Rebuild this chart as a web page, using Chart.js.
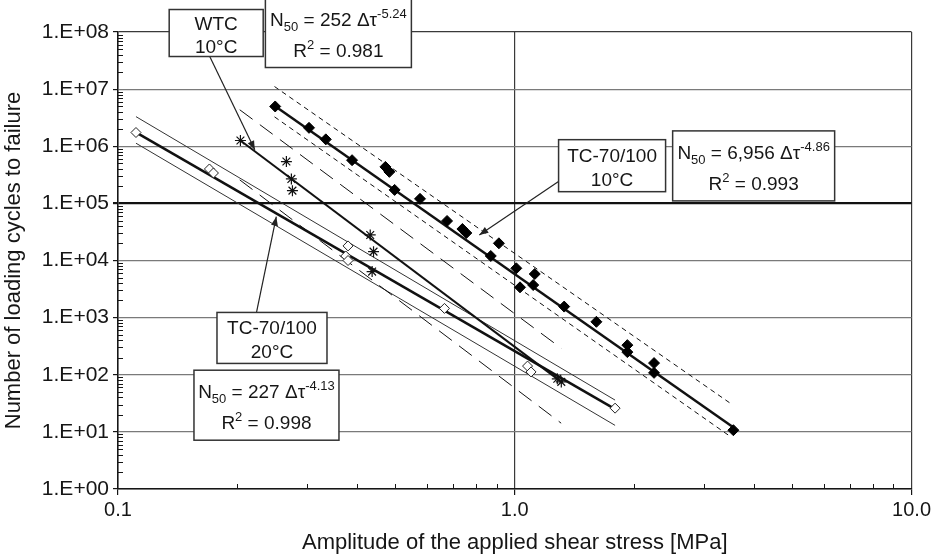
<!DOCTYPE html>
<html>
<head>
<meta charset="utf-8">
<script src="https://cdn.jsdelivr.net/npm/chart.js@4.4.0/dist/chart.umd.min.js"></script>
<style>
  html, body { margin: 0; padding: 0; background: #fff; }
  #wrap { width: 934px; height: 558px; }
</style>
</head>
<body>
<div id="wrap"><canvas id="snChart" width="934" height="558"></canvas></div>
<script>
// TC-70/100 at 10°C (filled diamonds)
const tc10X = [0.249, 0.303, 0.334, 0.389, 0.472, 0.483, 0.498, 0.577, 0.675, 0.738, 0.755, 0.912, 0.870, 1.009, 1.123, 1.031, 1.113, 1.332, 1.606, 1.922, 1.922, 2.244, 2.244, 3.556];
const tc10Y = [4.97e6, 2.10e6, 1.32e6, 5.7e5, 4.35e5, 3.56e5, 1.72e5, 1.20e5, 4.92e4, 3.56e4, 3.03e4, 2.0e4, 1.2e4, 7.3e3, 5.8e3, 3.39e3, 3.72e3, 1.56e3, 845, 330, 249, 160, 108, 10.7];
// WTC at 10°C (asterisks)
const wtcX = [0.2035, 0.2657, 0.2735, 0.2752, 0.4322, 0.4406, 0.437, 1.28, 1.31];
const wtcY = [1.26e6, 5.4e5, 2.68e5, 1.67e5, 2.8e4, 1.43e4, 6.4e3, 85, 75];
// TC-70/100 at 20°C (open diamonds)
const tc20X = [0.111, 0.170, 0.174, 0.380, 0.375, 0.380, 0.665, 1.077, 1.099, 1.79];
const tc20Y = [1.74e6, 4.0e5, 3.4e5, 1.8e4, 1.2e4, 1.0e4, 1.45e3, 142, 112, 26];

// fitted lines and their bands (end points)
const tc10FitX = [0.249, 3.545];
const tc10FitY = [5.0e6, 12.2];
const tc10UpperX = [0.248, 3.50];
const tc10UpperY = [1.11e7, 31.4];
const tc10LowerX = [0.248, 3.46];
const tc10LowerY = [3.27e6, 8.7];
const wtcFitX = [0.2035, 1.30];
const wtcFitY = [1.26e6, 78];
const wtcUpperX = [0.2027, 1.309];
const wtcUpperY = [4.35e6, 292];
const wtcLowerX = [0.2027, 1.309];
const wtcLowerY = [2.58e5, 14.2];
const tc20FitX = [0.111, 1.79];
const tc20FitY = [1.75e6, 25];
const tc20UpperX = [0.111, 1.79];
const tc20UpperY = [3.3e6, 36];
const tc20LowerX = [0.111, 1.79];
const tc20LowerY = [1.13e6, 13];

const xTicks = [0.1, 1, 10];
const xTickLabels = ['0.1', '1.0', '10.0'];
const yTicks = [1, 10, 100, 1e3, 1e4, 1e5, 1e6, 1e7, 1e8];
const yTickLabels = ['1.E+00', '1.E+01', '1.E+02', '1.E+03', '1.E+04', '1.E+05', '1.E+06', '1.E+07', '1.E+08'];

const FONT = "'Liberation Sans', Arial, sans-serif";
const INK = '#161616';

const toPoints = (xs, ys) => xs.map((x, i) => ({x: x, y: ys[i]}));

// text boxes, placed by their centre in axis units
const noteBoxes = [
  {x: 0.1768, y: 9.6e7, w: 94, h: 47, gap: 23.5, lines: [[['WTC', '']], [['10°C', '']]]},
  {x: 0.3593, y: 9.6e7, w: 146, h: 69, gap: 30.5, lines: [[['N', ''], ['50', 'sub'], [' = 252 Δτ', ''], ['-5.24', 'sup']], [['R', ''], ['2', 'sup'], [' = 0.981', '']]]},
  {x: 1.759, y: 4.57e5, w: 107, h: 52, gap: 24, lines: [[['TC-70/100', '']], [['10°C', '']]]},
  {x: 4.0, y: 4.53e5, w: 162, h: 70, gap: 30.5, lines: [[['N', ''], ['50', 'sub'], [' = 6,956 Δτ', ''], ['-4.86', 'sup']], [['R', ''], ['2', 'sup'], [' = 0.993', '']]]},
  {x: 0.2444, y: 441, w: 110, h: 51, gap: 24, lines: [[['TC-70/100', '']], [['20°C', '']]]},
  {x: 0.2367, y: 29.3, w: 145, h: 70, gap: 30.5, lines: [[['N', ''], ['50', 'sub'], [' = 227 Δτ', ''], ['-4.13', 'sup']], [['R', ''], ['2', 'sup'], [' = 0.998', '']]]}
];
const noteArrows = [
  {from: [0.1703, 3.73e7], to: [0.2212, 8.65e5]},
  {from: [1.289, 2.41e5], to: [0.814, 2.8e4]},
  {from: [0.2234, 1236], to: [0.2506, 5.86e4]}
];

function drawRuns(ctx, runs, cx, baseY) {
  let total = 0;
  runs.forEach(r => {
    ctx.font = (r[1] ? '13px ' : '19px ') + FONT;
    total += ctx.measureText(r[0]).width;
  });
  let px = cx - total / 2;
  runs.forEach(r => {
    ctx.font = (r[1] ? '13px ' : '19px ') + FONT;
    let dy = 0;
    if (r[1] == 'sub') dy = 5;
    if (r[1] == 'sup') dy = -8;
    ctx.fillText(r[0], px, baseY + dy);
    px += ctx.measureText(r[0]).width;
  });
}

function drawArrow(ctx, x0, y0, x1, y1) {
  ctx.beginPath();
  ctx.moveTo(x0, y0);
  ctx.lineTo(x1, y1);
  ctx.stroke();
  const ang = Math.atan2(y1 - y0, x1 - x0), L = 9, W = 3.5;
  ctx.beginPath();
  ctx.moveTo(x1, y1);
  ctx.lineTo(x1 - L * Math.cos(ang) + W * Math.sin(ang), y1 - L * Math.sin(ang) - W * Math.cos(ang));
  ctx.lineTo(x1 - L * Math.cos(ang) - W * Math.sin(ang), y1 - L * Math.sin(ang) + W * Math.cos(ang));
  ctx.closePath();
  ctx.fill();
}

const overlay = {
  id: 'overlay',
  afterDraw(chart) {
    const ctx = chart.ctx, a = chart.chartArea;
    const sx = chart.scales.x, sy = chart.scales.y;
    ctx.save();
    // minor ticks, pointing into the plot
    ctx.strokeStyle = INK;
    ctx.lineWidth = 1;
    ctx.beginPath();
    for (let e = 0; e < 8; e++) {
      for (let m = 2; m < 10; m++) {
        const py = Math.round(sy.getPixelForValue(m * Math.pow(10, e))) + 0.5;
        ctx.moveTo(a.left, py);
        ctx.lineTo(a.left + 5, py);
      }
    }
    for (let e = -1; e < 1; e++) {
      for (let m = 2; m < 10; m++) {
        const px = Math.round(sx.getPixelForValue(m * Math.pow(10, e))) + 0.5;
        ctx.moveTo(px, a.bottom);
        ctx.lineTo(px, a.bottom - 5);
      }
    }
    ctx.stroke();

    // arrows
    ctx.strokeStyle = '#222';
    ctx.fillStyle = '#222';
    ctx.lineWidth = 1.2;
    noteArrows.forEach(n => {
      drawArrow(ctx, sx.getPixelForValue(n.from[0]), sy.getPixelForValue(n.from[1]),
        sx.getPixelForValue(n.to[0]), sy.getPixelForValue(n.to[1]));
    });

    // boxes
    noteBoxes.forEach(b => {
      const cx = sx.getPixelForValue(b.x), cy = sy.getPixelForValue(b.y);
      ctx.fillStyle = '#fff';
      ctx.fillRect(cx - b.w / 2, cy - b.h / 2, b.w, b.h);
      ctx.strokeStyle = '#333';
      ctx.lineWidth = 1.5;
      ctx.strokeRect(cx - b.w / 2, cy - b.h / 2, b.w, b.h);
      ctx.fillStyle = INK;
      ctx.textBaseline = 'alphabetic';
      ctx.textAlign = 'left';
      b.lines.forEach((runs, i) => {
        const mid = cy + 1.5 + (i - (b.lines.length - 1) / 2) * b.gap;
        drawRuns(ctx, runs, cx, mid + 7);
      });
    });
    ctx.restore();
  }
};

const lineSet = (xs, ys, width, dash, color) => ({
  data: toPoints(xs, ys),
  showLine: true,
  borderColor: color || '#111',
  borderWidth: width,
  borderDash: dash,
  pointRadius: 0,
  fill: false
});

const xTickFont = {family: FONT, size: 20};
const yTickFont = {family: FONT, size: 21};
const titleFont = {family: FONT, size: 22};

new Chart(document.getElementById('snChart'), {
  type: 'scatter',
  data: {
    datasets: [
      {label: 'TC-70/100 10°C', data: toPoints(tc10X, tc10Y), pointStyle: 'rectRot', pointRadius: 5.5,
        backgroundColor: '#000', borderColor: '#000', borderWidth: 1},
      {label: 'WTC 10°C', data: toPoints(wtcX, wtcY), pointStyle: 'star', pointRadius: 5.5,
        backgroundColor: '#111', borderColor: '#111', borderWidth: 1.2},
      {label: 'TC-70/100 20°C', data: toPoints(tc20X, tc20Y), pointStyle: 'rectRot', pointRadius: 5,
        backgroundColor: '#fff', borderColor: '#222', borderWidth: 1},
      lineSet(tc10FitX, tc10FitY, 2.5, []),
      lineSet(tc10UpperX, tc10UpperY, 1, [5, 4]),
      lineSet(tc10LowerX, tc10LowerY, 1, [5, 4]),
      lineSet(wtcFitX, wtcFitY, 2, []),
      lineSet(wtcUpperX, wtcUpperY, 1, [16, 9]),
      lineSet(wtcLowerX, wtcLowerY, 1, [16, 9]),
      lineSet(tc20FitX, tc20FitY, 2.5, []),
      lineSet(tc20UpperX, tc20UpperY, 1, [], '#333'),
      lineSet(tc20LowerX, tc20LowerY, 1, [], '#333')
    ]
  },
  options: {
    responsive: false,
    animation: false,
    devicePixelRatio: 1,
    layout: {padding: {top: 32, right: 21, left: 0, bottom: 0}},
    plugins: {
      legend: {display: false},
      tooltip: {enabled: false}
    },
    scales: {
      x: {
        type: 'logarithmic',
        min: 0.1,
        max: 10,
        afterBuildTicks: s => { s.ticks = xTicks.map(v => ({value: v})); },
        afterFit: s => { s.height = 69; },
        ticks: {
          callback: (v, i) => xTickLabels[i],
          font: xTickFont, color: INK, padding: 3, maxRotation: 0, autoSkip: false
        },
        grid: {color: '#3a3a3a', lineWidth: 1.2, tickLength: 6, tickColor: INK},
        border: {color: INK, width: 1.5},
        title: {display: true, text: 'Amplitude of the applied shear stress [MPa]',
          font: titleFont, color: INK, padding: {top: 0, bottom: 2}}
      },
      y: {
        type: 'logarithmic',
        min: 1,
        max: 1e8,
        afterBuildTicks: s => { s.ticks = yTicks.map(v => ({value: v})); },
        afterFit: s => { s.width = 118; },
        ticks: {
          callback: (v, i) => yTickLabels[i],
          font: yTickFont, color: INK, padding: 4, autoSkip: false
        },
        grid: {
          color: c => {
            const v = c.tick && c.tick.value;
            if (v === 1e5) return '#111';
            return v === 1e8 ? '#3a3a3a' : '#7a7a7a';
          },
          lineWidth: c => (c.tick && c.tick.value === 1e5) ? 2.2 : 1.2,
          tickLength: 5, tickColor: INK
        },
        border: {color: INK, width: 1.5},
        title: {display: true, text: 'Number of loading cycles to failure',
          font: titleFont, color: INK, padding: {top: 1, bottom: 0}}
      }
    }
  },
  plugins: [overlay]
});
</script>
</body>
</html>
